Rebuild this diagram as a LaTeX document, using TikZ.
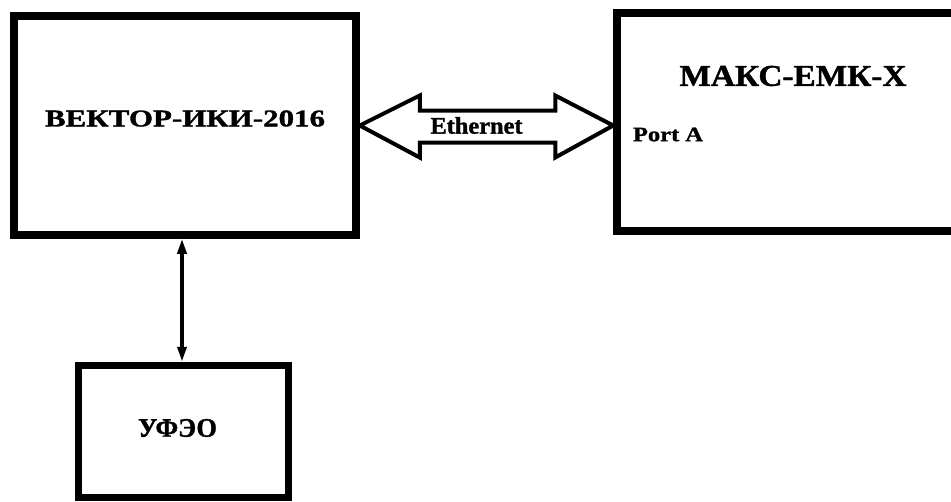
\documentclass[tikz,border=0pt]{standalone}
\usepackage{fontspec}
\usepackage{graphicx}
\setmainfont{Liberation Serif}
\newfontfamily\heavyfont{Liberation Serif Bold}[FakeBold=1.2]
\usetikzlibrary{calc,arrows.meta}
\begin{document}
\begin{tikzpicture}[x=1pt,y=-1pt,
  box/.style={draw=black,line width=7.5pt,rectangle,inner sep=0pt},
  lbl/.style={inner sep=0pt,font=\heavyfont},
  bus/.style={draw=black,line width=4pt,line join=miter,fill=white},
  link/.style={draw=black,line width=3.5pt,{Triangle[width=9pt,length=15pt]}-{Triangle[width=9pt,length=15pt]}}
  ]
\clip (0,0) rectangle (951,501);
\fill[white] (0,0) rectangle (951,501);
% boxes
\node[box,minimum width=342pt,minimum height=219pt] (vec) at (185,125.5) {};
\node[box,minimum width=350pt,minimum height=218pt] (maks) at (792,122) {};
\node[box,minimum width=210pt,minimum height=132pt] (ufeo) at (183.5,431.5) {};
% labels
\node[lbl] (vect) at (185,118.5) {\resizebox{280pt}{16pt}{ВЕКТОР-ИКИ-2016}};
\node[lbl] (makst) at (793,76) {\resizebox{227pt}{20pt}{МАКС-ЕМК-Х}};
\node[lbl] (porta) at (668,134.5) {\resizebox{70pt}{13.5pt}{Port A}};
\node[lbl] (ufeot) at (177.5,428) {\resizebox*{79pt}{18pt}{УФЭО}};
% Ethernet double arrow
\coordinate (L) at (vec.east);
\coordinate (R) at (maks.west |- vec.east);
\draw[bus] (L) -- ++(60,-30) -- ++(0,15) -- ($(R)+(-58,-15)$) -- ++(0,-15) -- (R)
  -- ++(-58,32) -- ++(0,-15) -- ($(L)+(60,17)$) -- ++(0,15) -- cycle;
\node[lbl] (eth) at ($(L)!0.5!(R)+(-10,0)$) {\resizebox{92pt}{16.5pt}{Ethernet}};
% vertical link
\coordinate (lt) at ($(vec.south)+(-3,0)$);
\draw[link] (lt) -- (lt |- ufeo.north);
\end{tikzpicture}
\end{document}
